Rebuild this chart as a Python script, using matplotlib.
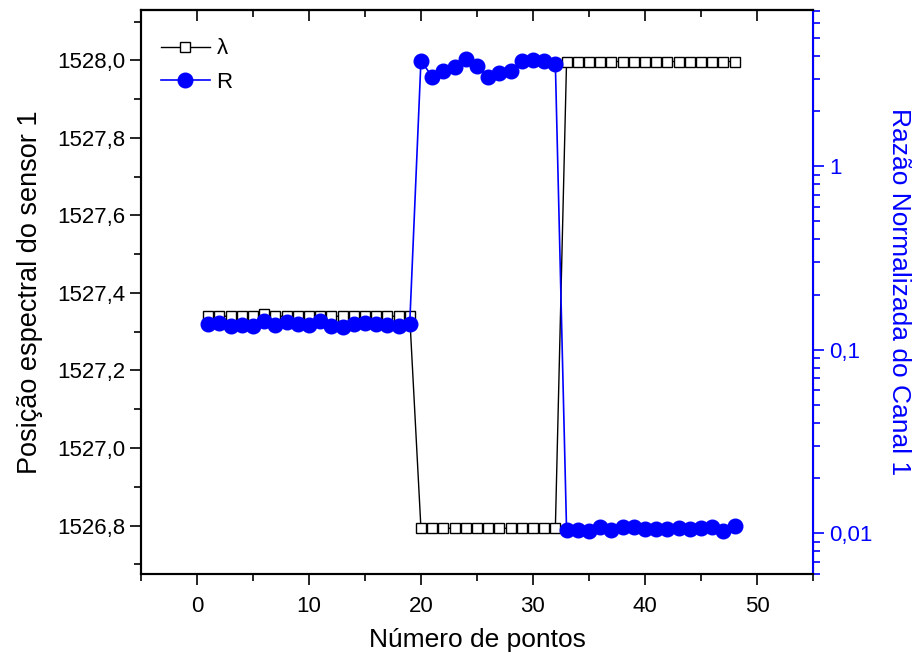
import matplotlib
matplotlib.use('Agg')
import matplotlib.pyplot as plt
from matplotlib.ticker import MultipleLocator, FixedLocator, FuncFormatter, LogLocator, NullFormatter

plt.rcParams['font.family'] = ['Liberation Sans', 'DejaVu Sans']

# point index
pontos = list(range(1, 49))

# spectral position (left axis)
lam = ([1527.34] * 5 + [1527.345] + [1527.34] * 13
       + [1526.793] * 13
       + [1527.997] * 16)

# normalized ratio (right axis, log)
razao = [0.139, 0.140, 0.135, 0.137, 0.135, 0.144, 0.137, 0.142, 0.139, 0.137,
         0.144, 0.135, 0.133, 0.139, 0.140, 0.139, 0.137, 0.135, 0.139,
         3.75, 3.08, 3.32, 3.46, 3.83, 3.52, 3.06, 3.21, 3.30, 3.73, 3.80, 3.76, 3.62,
         0.01047, 0.01042, 0.0103, 0.01088, 0.01042, 0.01078, 0.01083, 0.0106,
         0.0105, 0.01054, 0.01064, 0.0106, 0.01074, 0.01078, 0.01026, 0.01102]

azul = '#0000ff'

fig = plt.figure(figsize=(9.15, 6.64), dpi=100)
ax = fig.add_axes([0.154, 0.1355, 0.7345, 0.8495])
ax2 = ax.twinx()

l1, = ax.plot(pontos, lam, '-s', color='black', lw=1, markersize=7,
              markerfacecolor='white', markeredgecolor='black', markeredgewidth=1,
              label='λ', zorder=2)
l2, = ax2.plot(pontos, razao, '-o', color=azul, lw=1.2, markersize=10.5,
               markerfacecolor=azul, markeredgecolor=azul, label='R')

ax.set_xlim(-5, 55)
ax.set_ylim(1526.675, 1528.13)
ax2.set_yscale('log')
ax2.set_ylim(0.006, 7.1)

ax.xaxis.set_major_locator(MultipleLocator(10))
ax.xaxis.set_minor_locator(MultipleLocator(5))
ax.yaxis.set_major_locator(MultipleLocator(0.2))
ax.yaxis.set_minor_locator(MultipleLocator(0.1))
ax.yaxis.set_major_formatter(FuncFormatter(lambda v, p: ('%.1f' % v).replace('.', ',')))

ax.tick_params(axis='both', which='major', direction='out', length=8, width=1.2, labelsize=16)
ax.tick_params(axis='both', which='minor', direction='out', length=5, width=1.2)
ax.tick_params(axis='x', pad=8)

# top axis: ticks inside, no labels
top = ax.secondary_xaxis('top')
top.xaxis.set_major_locator(MultipleLocator(10))
top.xaxis.set_minor_locator(MultipleLocator(5))
top.tick_params(which='major', direction='in', length=8, width=1.2, labeltop=False)
top.tick_params(which='minor', direction='in', length=5, width=1.2)
top.spines['top'].set_linewidth(1.5)

ax2.yaxis.set_major_locator(FixedLocator([0.01, 0.1, 1]))
ax2.yaxis.set_minor_locator(LogLocator(base=10, subs=range(2, 10)))
ax2.yaxis.set_minor_formatter(NullFormatter())
ax2.yaxis.set_major_formatter(FuncFormatter(lambda v, p: {0.01: '0,01', 0.1: '0,1', 1: '1'}.get(round(v, 3), '')))
ax2.tick_params(axis='y', which='major', direction='out', length=8, width=1.2,
                colors=azul, labelsize=16)
ax2.tick_params(axis='y', which='minor', direction='out', length=5, width=1.2, colors=azul)

for s in ['left', 'bottom', 'top']:
    ax.spines[s].set_linewidth(1.5)
ax2.spines['right'].set_color(azul)
for s in ['right', 'left', 'top', 'bottom']:
    ax2.spines[s].set_linewidth(1.5)

ax.set_xlabel('Número de pontos', fontsize=19, labelpad=8)
ax.set_ylabel('Posição espectral do sensor 1', fontsize=19.5, labelpad=10)
ax2.set_ylabel('Razão Normalizada do Canal 1', fontsize=19, color=azul,
               rotation=270, labelpad=28)

ax2.legend([l1, l2], ['λ', 'R'], loc='upper left', frameon=False, fontsize=16,
           bbox_to_anchor=(0.0, 0.985), handlelength=2.2, handletextpad=0.3,
           labelspacing=0.55)

fig.savefig('out.png', dpi=100)
